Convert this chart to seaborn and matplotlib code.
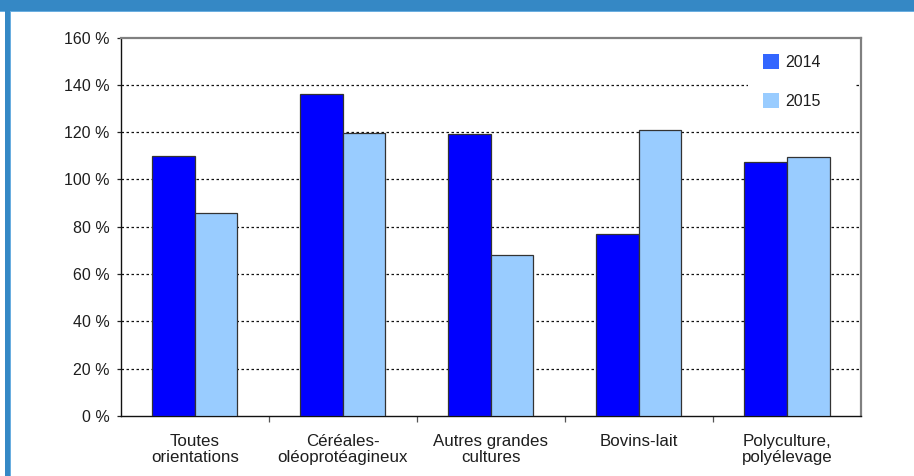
import matplotlib
matplotlib.use("Agg")
import matplotlib.pyplot as plt
from matplotlib.patches import Patch, Rectangle
import pandas as pd
import seaborn as sns

# Categories (farm types) and yearly values, in %
categories = [
    "Toutes\norientations",
    "Céréales-\noléoprotéagineux",
    "Autres grandes\ncultures",
    "Bovins-lait",
    "Polyculture,\npolyélevage",
]
years = ["2014", "2015"]
values_2014 = [110, 136, 119, 77, 107.5]
values_2015 = [86, 119.5, 68, 121, 109.3]
y_ticks = [0, 20, 40, 60, 80, 100, 120, 140, 160]

df = pd.DataFrame({
    "categorie": categories * 2,
    "annee": [years[0]] * len(categories) + [years[1]] * len(categories),
    "valeur": values_2014 + values_2015,
})

sns.set_theme(style="white")
plt.rcParams["font.family"] = ["Liberation Sans", "DejaVu Sans"]
text_color = "#1e1e1e"

fig = plt.figure(figsize=(9.14, 4.76), dpi=100)
W, H = 914, 476
x0, x1, y_top, y_bot = 120.7, 861, 37.5, 416
ax = fig.add_axes([x0 / W, 1 - y_bot / H, (x1 - x0) / W, (y_bot - y_top) / H])

bar_colors = {"2014": "#0000ff", "2015": "#99ccff"}
sns.barplot(
    data=df, x="categorie", y="valeur", hue="annee",
    order=categories, hue_order=years, palette=bar_colors,
    width=0.575, dodge=True, edgecolor="#333333", linewidth=0.9,
    saturation=1, ax=ax, legend=False, zorder=3,
)

ax.set_xlim(-0.5, len(categories) - 0.5)
ax.set_ylim(0, 160)
ax.set_xlabel("")
ax.set_ylabel("")

# Dotted horizontal grid
for v in y_ticks[1:-1]:
    ax.axhline(v, color="#111111", linestyle=(0, (2, 2)), linewidth=0.9, zorder=1)

ax.set_yticks(y_ticks)
ax.set_yticklabels([f"{v} %" for v in y_ticks])
ax.tick_params(axis="y", which="major", direction="out", length=3, width=0.9,
               color="#222222", left=True, labelsize=11.5, labelcolor=text_color, pad=5)

ax.set_xticks(range(len(categories)))
ax.set_xticklabels(categories, linespacing=1.12)
ax.tick_params(axis="x", which="major", length=0, labelsize=12.2,
               labelcolor=text_color, pad=13)
ax.set_xticks([i + 0.5 for i in range(len(categories) - 1)], minor=True)
ax.tick_params(axis="x", which="minor", direction="out", length=4, width=0.9,
               color="#555555", bottom=True)

for side in ["left", "bottom"]:
    ax.spines[side].set_color("#111111")
    ax.spines[side].set_linewidth(1.0)
for side in ["top", "right"]:
    ax.spines[side].set_color("#808080")
    ax.spines[side].set_linewidth(1.6)

# White area behind the legend, hiding the grid there
ax.add_patch(Rectangle(((748 - x0) / (x1 - x0), (y_bot - 118) / (y_bot - y_top)),
                       (856 - 748) / (x1 - x0), (118 - 44) / (y_bot - y_top),
                       transform=ax.transAxes, facecolor="white", edgecolor="none",
                       zorder=2))

handles = [Patch(facecolor="#3366ff", edgecolor="none"),
           Patch(facecolor="#99ccff", edgecolor="none")]
leg = ax.legend(
    handles, years, loc="upper left", bbox_to_anchor=(0.8595, 0.972),
    frameon=False, fontsize=11.5, handlelength=1.0, handleheight=1.0,
    handletextpad=0.4, labelspacing=1.45, borderpad=0.4, borderaxespad=0,
)
leg.set_zorder(5)
for t in leg.get_texts():
    t.set_color(text_color)

# Blue frame: top band and left border
frame_blue = "#3588c5"
frame_light = "#6aaee0"
fig.patches.append(Rectangle((0, 1 - 11 / H), 1, 11 / H, transform=fig.transFigure,
                             facecolor=frame_blue, edgecolor="none", zorder=10))
fig.patches.append(Rectangle((0, 1 - 12 / H), 1, 1 / H, transform=fig.transFigure,
                             facecolor=frame_light, edgecolor="none", zorder=10))
fig.patches.append(Rectangle((5 / W, 0), 5 / W, 1, transform=fig.transFigure,
                             facecolor=frame_blue, edgecolor="none", zorder=10))
fig.patches.append(Rectangle((10 / W, 0), 1 / W, 1 - 12 / H, transform=fig.transFigure,
                             facecolor=frame_light, edgecolor="none", zorder=10))

fig.savefig("out.png", dpi=100)
